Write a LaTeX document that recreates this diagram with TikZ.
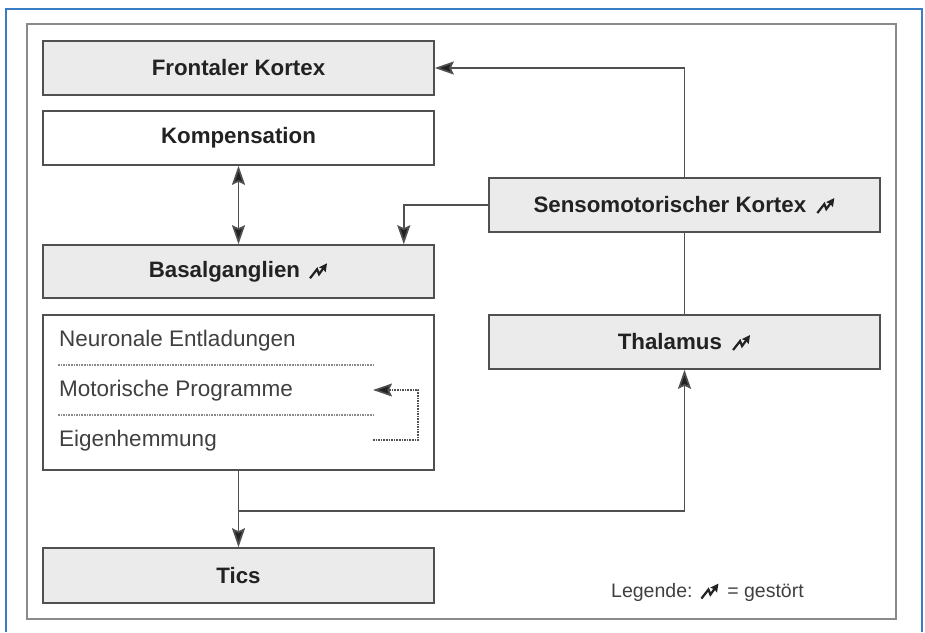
\documentclass[tikz,border=0pt]{standalone}
\usepackage{fontspec}
\setmainfont{Liberation Sans}
\usetikzlibrary{arrows.meta}
\definecolor{bluefr}{HTML}{3A7CC6}
\definecolor{framegray}{HTML}{8A8A8A}
\definecolor{boxline}{HTML}{505050}
\definecolor{boxfill}{HTML}{EBEBEB}
\definecolor{txt}{HTML}{222222}
\definecolor{txtl}{HTML}{404040}
\newcommand\gst{\tikz[baseline=-1pt,x=1pt,y=1pt]\draw[txt,line width=2.2pt,line join=miter,-{Stealth[length=8pt,width=8pt,inset=1pt]}] (0,-2)--(7,7)--(9,2)--(17,13);}
\tikzset{
  tip/.tip={Stealth[length=19pt,width=13pt,inset=3pt,fill=txt]},
  box/.style={draw=boxline,line width=1.6pt,minimum width=391pt,minimum height=54pt,inner sep=0pt,
    font=\fontsize{22.3}{26}\selectfont\bfseries,text=txt},
  gbox/.style={box,fill=boxfill},
  wbox/.style={box,fill=white},
  conn/.style={draw=boxline,line width=1.7pt},
  arr/.style={conn,-tip},
  arrb/.style={conn,tip-tip},
  item/.style={anchor=west,inner sep=0pt,font=\fontsize{22.5}{26}\selectfont,text=txtl},
  sep/.style={draw=framegray,line width=1.6pt,densely dotted},
}
\begin{document}
\begin{tikzpicture}[x=1pt,y=-1pt]
\useasboundingbox (0,0) rectangle (925,632);
\fill[white] (0,0) rectangle (925,632);
% frames
\draw[bluefr,line width=2pt] (6,632) -- (6,9) -- (922,9) -- (922,632);
\draw[framegray,line width=2pt] (27,24) rectangle (896,619);
% boxes
\node[gbox] (front) at (238.5,68) {Frontaler Kortex};
\node[wbox] (komp) at (238.5,138) {Kompensation};
\node[gbox,minimum height=53pt] (basal) at (238.5,271.5) {Basalganglien\hspace{0.4em}\gst};
\node[wbox,minimum height=155pt] (list) at (238.5,392.5) {};
\node[gbox,minimum height=55pt] (tics) at (238.5,575.5) {Tics};
\node[gbox] (senso) at (684.5,205) {Sensomotorischer Kortex\hspace{0.45em}\gst};
\node[gbox] (thal) at (684.5,342) {Thalamus\hspace{0.45em}\gst};
% list items
\node[item] (i1) at (59,341) {Neuronale Entladungen};
\node[item] (i2) at (59,391) {Motorische Programme};
\node[item] (i3) at (59,441) {Eigenhemmung};
\draw[sep] (58,365) -- (373,365);
\draw[sep] (58,415) -- (373,415);
% dotted feedback arrow
\coordinate (fbA) at (373,440);
\coordinate (fbB) at (418,440);
\coordinate (fbC) at (418,390);
\coordinate (fbD) at (373,390);
\draw[draw=boxline,line width=1.6pt,densely dotted] (fbA) -- (fbB) -- (fbC) -- ([xshift=16pt]fbD);
\draw[boxline,line width=1.6pt,-tip] ([xshift=18pt]fbD) -- (fbD);
% connectors
\draw[arr] (senso.north) |- (front.east);
\draw[arr] (senso.west) -| ([xshift=-31pt]basal.north east);
\draw[arrb] (komp.south) -- (basal.north);
\draw[conn] (senso.south) -- (thal.north);
\draw[arr] (list.south) -- (tics.north);
\coordinate (br) at ([yshift=-40pt]list.south);
\draw[arr] (br) -| (thal.south);
% legend
\node[anchor=west,inner sep=0pt,font=\fontsize{19.5}{23}\selectfont,text=txtl] (leg) at (611,592) {Legende:\hspace{0.4em}\gst\hspace{0.4em}= gestört};
\end{tikzpicture}
\end{document}
